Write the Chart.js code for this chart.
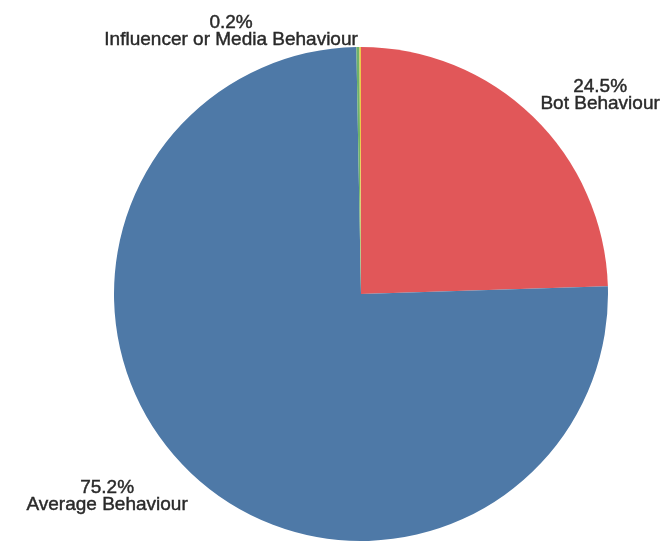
<!DOCTYPE html>
<html>
<head>
<meta charset="utf-8">
<script src="https://cdn.jsdelivr.net/npm/chart.js@4/dist/chart.umd.min.js"></script>
<style>
  html, body { margin: 0; padding: 0; background: #ffffff; }
  #wrap { width: 664px; height: 543px; position: relative; }
</style>
</head>
<body>
<div id="wrap"><canvas id="pie" width="664" height="543"></canvas></div>
<script>
// Share of accounts by behaviour type
const categories = ['Bot Behaviour', 'Average Behaviour', 'Influencer or Media Behaviour', 'Other'];
const shares = [24.5, 75.2, 0.2, 0.1];
const valueLabels = ['24.5%', '75.2%', '0.2%', ''];

const sliceColors = ['#e15759', '#4e79a7', '#6fb36a', '#edc948'];

// Where each label block sits, relative to the pie centre, in units of the radius
// (x = centre of text, y = baseline of the first line)
const labelPlacement = [
  { dx: 0.968, dy: -0.818 },
  { dx: -1.028, dy: 0.806 },
  { dx: -0.526, dy: -1.077 },
  null
];

const sliceLabels = {
  id: 'sliceLabels',
  afterDatasetsDraw(chart) {
    const ctx = chart.ctx;
    const meta = chart.getDatasetMeta(0);
    ctx.save();
    ctx.fillStyle = '#2a2a2a';
    ctx.strokeStyle = '#2a2a2a';
    ctx.lineWidth = 0.45;
    ctx.font = '19px "Liberation Sans", Arial, Helvetica, sans-serif';
    ctx.textAlign = 'center';
    ctx.textBaseline = 'alphabetic';
    meta.data.forEach((arc, i) => {
      const p = labelPlacement[i];
      if (!p || !valueLabels[i]) return;
      const r = arc.outerRadius;
      const x = arc.x + p.dx * r;
      const y = arc.y + p.dy * r;
      ctx.fillText(valueLabels[i], x, y);
      ctx.strokeText(valueLabels[i], x, y);
      ctx.fillText(categories[i], x, y + 17);
      ctx.strokeText(categories[i], x, y + 17);
    });
    ctx.restore();
  }
};

new Chart(document.getElementById('pie'), {
  type: 'pie',
  data: {
    labels: categories,
    datasets: [{
      data: shares,
      backgroundColor: sliceColors,
      borderWidth: 0
    }]
  },
  options: {
    responsive: false,
    animation: false,
    layout: { padding: { top: 47, bottom: 2, left: 87, right: 29 } },
    plugins: {
      legend: { display: false },
      tooltip: { enabled: false }
    }
  },
  plugins: [sliceLabels]
});
</script>
</body>
</html>
